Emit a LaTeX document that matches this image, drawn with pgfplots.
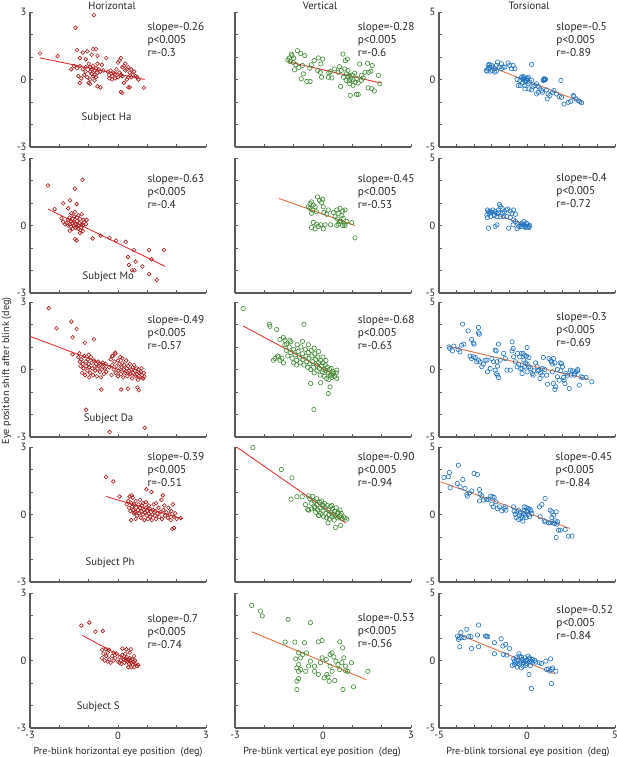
\documentclass[border=0pt]{standalone}
\usepackage{pgfplots}
\usepackage{pgfplotstable}
\pgfplotsset{compat=1.18}
\usepackage{fontspec}
\setmainfont{PT Sans}
\definecolor{hred}{RGB}{170,28,28}
\definecolor{hline}{RGB}{228,50,50}
\definecolor{vgreen}{RGB}{62,138,50}
\definecolor{vred}{RGB}{230,55,45}
\definecolor{vorange}{RGB}{228,110,55}
\definecolor{tblue}{RGB}{30,115,195}
\definecolor{torange}{RGB}{225,115,70}
\definecolor{axgray}{RGB}{90,90,90}

\pgfplotstableread{
x y
-2.66 1.16
-2.06 1.04
-1.45 2.30
-0.82 2.86
-1.4 1.3
-1.2 1.2
-1.05 1.25
-0.85 1.35
-0.75 1.35
-0.9 1.1
-0.7 1.05
-1.3 0.95
-1.1 0.9
-1.5 0.6
-1.6 0.45
-1.4 0.5
-1.3 0.6
-1.2 0.45
-1.1 0.55
-1.0 0.7
-0.95 0.55
-0.9 0.45
-0.85 0.6
-0.8 0.4
-0.75 0.5
-0.7 0.3
-0.65 0.45
-0.6 0.35
-0.55 0.65
-1.35 0.15
-1.25 0.05
-1.15 0.2
-1.05 0.1
-0.95 0.0
-0.9 0.25
-0.85 0.15
-0.8 -0.05
-0.75 0.1
-0.7 -0.3
-0.6 -0.35
-1.3 -0.15
-1.0 -0.15
-0.95 -0.2
-1.1 0.35
-0.95 0.35
-0.8 0.2
-0.7 0.7
-0.5 0.4
-0.4 0.95
-0.35 0.35
-0.3 0.2
-0.25 0.4
-0.2 0.15
-0.15 0.3
-0.1 0.05
-0.05 0.45
0.0 0.75
0.05 0.85
0.1 0.95
0.15 0.55
0.2 0.6
0.25 0.4
0.3 0.45
0.35 0.55
0.4 0.3
0.45 0.1
0.5 0.2
0.55 0.35
0.6 0.15
0.3 0.0
0.2 -0.15
0.15 0.15
0.05 0.3
-0.1 0.25
-0.2 0.0
0.1 -0.55
0.15 -0.6
0.35 -0.35
0.4 -0.35
0.65 0.1
0.7 0.0
0.88 -0.37
0.25 0.7
0.35 0.1
0.45 0.45
-0.3 0.05
0.0 0.1
0.1 0.2
}\HaH

\pgfplotstableread{
x y
-2.39 1.78
-2.16 0.73
-1.21 2.03
-1.47 1.64
-1.64 1.12
-1.87 0.98
-1.41 0.95
-1.70 0.76
-1.59 0.54
-1.47 0.61
-1.24 0.50
-1.18 0.25
-1.07 0.25
-1.09 0.07
-1.87 0.17
-1.93 0.32
-1.75 0.10
-1.7 0.0
-1.65 0.05
-1.6 -0.05
-1.55 0.1
-1.5 0.0
-1.45 0.05
-1.4 -0.05
-1.35 0.0
-1.3 0.1
-1.25 -0.1
-1.2 0.0
-1.6 0.2
-1.5 0.15
-1.4 0.2
-1.3 0.3
-1.55 -0.15
-1.45 -0.1
-1.35 -0.15
-1.25 0.05
-1.7 0.25
-1.8 0.05
-1.65 0.35
-1.5 0.4
-1.4 0.35
-1.35 0.45
-1.55 0.3
-1.28 -0.2
-1.2 -0.25
-1.15 0.15
-1.64 -0.23
-1.41 -0.66
-1.47 -0.60
-1.30 -0.34
-0.86 -0.58
-0.59 -0.45
-0.29 -0.55
-0.06 -0.67
0.26 -0.73
0.54 -1.09
1.06 -1.09
1.57 -1.09
0.34 -1.40
0.37 -1.75
0.60 -1.61
0.83 -1.82
0.48 -1.99
0.56 -1.99
1.14 -1.50
1.06 -2.16
1.32 -2.42
}\MoH

\pgfplotstableread{
x y
-2.36 2.72
-2.10 1.83
-1.59 2.13
-1.41 1.80
-1.55 1.43
-1.13 1.19
-0.82 1.34
-1.55 0.67
-1.09 -1.79
-0.57 -0.89
-0.29 -2.78
0.91 -2.59
0.11 -0.89
0.34 -0.86
0.66 -0.80
0.71 -0.92
-0.09 0.71
-0.20 0.60
-1.35 0.55
-1.3 0.35
-1.28 0.15
-1.25 0.45
-1.2 0.25
-1.18 0.05
-1.15 0.6
-1.1 0.35
-1.08 0.15
-1.05 -0.05
-1.02 0.45
-1.0 0.25
-0.98 0.1
-0.95 -0.15
-0.92 0.55
-0.9 0.3
-0.88 0.05
-0.85 -0.25
-0.82 0.4
-0.8 0.15
-0.78 -0.05
-0.75 0.25
-0.72 -0.3
-0.7 0.05
-0.68 0.35
-0.65 0.15
-0.62 -0.1
-0.6 0.2
-0.58 -0.35
-0.55 0.0
-0.52 0.3
-0.5 0.1
-0.48 -0.2
-0.45 0.05
-0.42 0.25
-0.4 -0.1
-1.22 -0.15
-1.12 -0.25
-0.98 -0.35
-1.32 0.72
-1.0 0.65
-0.25 0.45
-0.2 0.2
-0.18 0.6
-0.15 0.0
-0.12 0.35
-0.1 0.75
-0.08 -0.15
-0.05 0.15
0.0 0.4
0.02 -0.05
0.05 0.25
0.08 0.55
0.1 -0.2
0.12 0.1
0.15 0.3
0.18 -0.35
0.2 0.0
0.22 0.2
0.25 -0.15
0.28 0.4
0.3 0.05
0.32 -0.3
0.35 0.15
0.38 -0.05
0.4 0.25
0.42 -0.2
0.45 0.0
0.48 -0.4
0.5 0.1
0.52 -0.15
0.55 0.2
0.58 -0.05
0.6 -0.3
0.62 0.05
0.65 -0.2
0.68 -0.45
0.7 0.0
0.72 -0.15
0.75 -0.35
0.78 -0.1
0.8 0.05
0.82 -0.25
0.85 -0.4
0.88 -0.15
0.9 -0.3
-0.3 0.1
-0.22 -0.25
0.0 -0.3
0.15 0.5
}\DaH

\pgfplotstableread{
x y
-0.41 1.67
-0.16 1.47
0.05 0.80
0.47 0.85
0.97 1.12
1.14 1.00
1.53 0.85
1.87 0.45
1.85 -0.64
1.91 -0.60
2.14 -0.16
0.3 0.45
0.35 0.6
0.38 0.3
0.4 0.8
0.42 0.15
0.45 0.5
0.48 0.35
0.5 0.75
0.52 0.2
0.55 0.45
0.58 0.1
0.6 0.6
0.62 0.3
0.65 -0.05
0.68 0.2
0.7 0.45
0.72 0.05
0.75 0.3
0.78 -0.15
0.8 0.15
0.82 0.4
0.85 0.0
0.88 0.2
0.9 -0.25
0.92 0.1
0.95 0.3
0.98 -0.05
1.0 0.15
1.02 -0.2
1.05 0.05
1.08 0.25
1.1 -0.1
1.12 0.1
1.15 -0.25
1.18 0.0
1.2 0.2
1.22 0.45
1.25 -0.05
1.28 0.15
1.3 -0.2
1.35 0.05
1.38 0.3
1.4 -0.1
1.45 0.1
1.48 0.65
1.5 -0.2
1.55 0.2
1.58 0.4
1.6 -0.05
1.65 0.1
1.7 -0.15
1.72 0.3
1.75 0.0
1.8 -0.25
1.82 0.15
1.9 -0.1
1.95 0.05
2.0 -0.2
0.6 -0.2
0.45 -0.25
0.75 0.65
1.3 0.5
0.55 0.05
0.85 0.5
0.95 0.55
1.05 0.4
}\PhH

\pgfplotstableread{
x y
-1.25 1.55
-0.98 1.69
-0.77 1.28
-0.52 1.31
-0.54 0.48
-0.42 0.50
-0.31 0.48
0.15 0.53
0.29 0.50
0.44 0.50
-0.55 0.1
-0.5 0.3
-0.45 0.0
-0.4 0.2
-0.35 0.35
-0.3 0.05
-0.25 -0.1
-0.2 0.2
-0.15 0.0
-0.1 0.1
-0.05 0.3
0.0 -0.05
0.05 0.15
0.1 0.0
0.12 -0.15
0.15 0.25
0.2 0.05
0.22 -0.1
0.25 0.1
0.28 0.0
0.3 0.15
0.32 -0.05
0.35 0.05
0.38 -0.15
0.4 0.1
0.42 0.0
0.45 -0.1
0.48 0.05
0.5 -0.2
0.52 -0.05
0.55 -0.3
0.58 0.0
0.6 -0.15
0.65 -0.25
0.69 -0.2
0.35 -0.3
0.45 -0.3
0.25 0.3
0.4 0.35
0.55 0.2
-0.15 0.35
-0.35 -0.05
0.05 -0.1
}\SH

\pgfplotstableread{
x y
-1.20 0.87
-1.08 1.13
-1.05 1.06
-0.87 1.28
-0.76 1.16
-0.62 1.06
-1.01 0.76
-0.93 0.66
-0.82 0.54
-0.70 0.62
-0.97 0.43
-0.74 0.03
-0.55 -0.09
-0.44 -0.09
-0.67 0.25
-0.30 0.84
-0.16 0.96
-0.01 0.91
-0.07 0.69
-0.18 0.40
-0.09 0.32
-0.05 0.10
0.18 0.10
0.30 0.07
0.25 0.35
0.68 1.13
0.56 0.57
0.62 0.40
0.74 0.47
0.85 0.40
0.91 0.18
0.79 -0.04
0.91 -0.19
0.60 -0.31
0.93 -0.71
1.14 -0.66
1.20 -0.66
1.02 -0.01
1.08 0.28
1.25 0.69
1.31 0.18
1.37 0.07
1.43 0.32
1.52 0.72
1.56 0.32
1.63 0.37
1.68 0.62
1.89 0.18
1.94 -0.19
1.54 -0.37
1.66 -0.41
1.75 -0.51
0.76 0.84
0.83 0.91
0.39 0.47
0.51 0.32
1.20 -0.16
1.31 -0.04
1.02 -0.26
1.10 -0.12
-1.15 0.95
-1.12 0.80
-1.0 0.95
0.85 0.15
0.95 0.05
1.0 0.20
0.70 0.10
0.80 0.25
1.15 0.05
0.90 -0.05
-0.45 0.50
-0.40 0.65
0.20 0.30
}\HaV

\pgfplotstableread{
x y
-0.44 0.98
-0.39 1.05
-0.33 0.91
-0.50 0.83
-0.44 0.76
-0.27 0.83
-0.35 0.69
-0.19 1.27
-0.12 1.12
-0.05 1.02
0.01 0.83
-0.39 0.54
-0.22 0.61
0.03 0.58
0.13 0.50
-0.33 0.13
-0.22 0.06
-0.39 -0.09
-0.27 -0.15
-0.16 -0.04
-0.08 0.03
0.01 -0.15
0.07 0.03
0.26 0.03
0.47 0.00
0.52 0.06
0.56 0.18
0.35 0.58
0.47 0.69
0.58 0.76
0.67 0.64
0.75 0.69
0.52 0.54
0.64 0.44
0.69 0.32
0.60 0.18
0.72 0.06
0.81 0.18
0.67 0.00
0.75 0.00
0.49 0.29
0.41 0.39
0.98 0.13
1.09 -0.55
0.18 0.69
-0.01 1.17
}\MoV

\pgfplotstableread{
x y
-2.72 2.71
-1.83 2.01
-1.81 1.92
-1.58 1.78
-0.65 2.01
-1.47 1.33
-1.35 1.42
-1.30 1.30
-1.13 1.30
-1.10 1.23
-1.24 1.13
-1.64 0.49
-1.52 0.56
-1.47 0.41
-1.69 0.41
-0.42 -0.62
-0.08 -0.59
0.24 -0.77
0.18 -1.07
-0.31 -1.78
0.47 -0.03
0.35 -0.18
0.30 -0.25
-1.3 1.1
-1.25 0.85
-1.2 0.6
-1.15 1.0
-1.1 0.75
-1.05 0.5
-1.0 0.9
-0.95 0.65
-0.9 0.4
-0.88 1.1
-0.85 0.8
-0.8 0.55
-0.78 0.3
-0.75 1.0
-0.7 0.7
-0.68 0.45
-0.65 0.2
-0.6 0.9
-0.58 0.6
-0.55 0.35
-0.52 0.1
-0.5 0.75
-0.48 0.5
-0.45 0.25
-0.42 0.0
-0.4 0.85
-0.38 0.6
-0.35 0.35
-0.32 0.1
-0.3 -0.15
-0.28 0.7
-0.25 0.45
-0.22 0.2
-0.2 -0.05
-0.18 0.55
-0.15 0.3
-0.12 0.05
-0.1 -0.25
-0.08 0.4
-0.05 0.15
-0.02 -0.1
0.0 0.3
0.02 0.0
0.05 -0.3
0.08 0.2
0.1 -0.05
0.12 -0.4
0.15 0.1
0.18 -0.15
0.2 -0.45
0.22 0.0
0.25 -0.25
0.28 0.05
0.3 -0.35
0.35 -0.1
0.4 -0.3
0.45 -0.15
0.47 -0.4
-1.0 0.3
-0.9 0.2
-1.4 0.5
-1.55 0.6
-1.35 0.3
-0.7 1.25
-0.5 1.1
-0.3 0.95
-0.15 0.8
0.0 0.55
0.1 0.4
}\DaV

\pgfplotstableread{
x y
-2.39 2.98
-1.42 2.00
-1.06 1.63
-1.09 0.68
-0.89 0.79
-0.71 0.79
-0.49 0.83
-0.60 0.44
-0.52 0.22
-0.49 0.19
0.17 -0.37
0.43 -0.58
0.60 -0.49
0.81 -0.21
-0.14 -0.03
-0.45 0.7
-0.4 0.5
-0.38 0.25
-0.35 0.8
-0.3 0.6
-0.28 0.35
-0.25 0.1
-0.22 0.7
-0.2 0.45
-0.18 0.2
-0.15 -0.05
-0.12 0.55
-0.1 0.3
-0.08 0.05
-0.05 0.6
-0.02 0.4
0.0 0.15
0.02 -0.1
0.05 0.5
0.08 0.3
0.1 0.05
0.12 -0.15
0.15 0.4
0.18 0.2
0.2 0.0
0.22 -0.2
0.25 0.35
0.28 0.1
0.3 -0.1
0.32 0.25
0.35 0.0
0.38 -0.25
0.4 0.15
0.42 -0.05
0.45 0.3
0.48 0.05
0.5 -0.15
0.52 0.1
0.55 -0.1
0.58 0.2
0.6 -0.05
0.65 -0.2
0.7 -0.1
0.75 -0.15
0.62 0.05
0.0 0.4
-0.3 0.3
0.3 0.4
}\PhV

\pgfplotstableread{
x y
-2.43 2.45
-2.13 2.20
-2.07 1.98
-1.19 1.83
-0.43 1.68
-1.29 0.82
-0.96 0.82
-0.63 0.79
-0.16 0.83
-0.03 0.89
0.57 0.83
0.67 0.56
-0.83 0.34
-0.69 0.27
-0.56 0.34
-0.76 0.12
-0.93 0.07
-0.83 -0.18
-0.89 -0.33
-0.76 -0.40
-0.59 -0.48
-0.43 -0.03
-0.29 -0.25
-0.09 -0.10
-0.03 0.12
0.11 0.04
0.24 0.27
0.31 0.34
0.37 0.16
0.44 -0.03
0.51 -0.18
0.57 -0.40
0.64 -0.10
0.71 0.12
0.77 -0.25
0.84 -0.48
0.97 -0.10
0.24 -0.25
0.31 -0.48
0.13 -0.62
0.04 -0.77
0.17 -0.73
-0.16 -0.62
-0.29 -0.48
-0.49 -0.25
0.21 -0.92
0.40 -0.89
-0.83 -0.80
-0.89 -0.92
-0.83 -0.48
-0.89 -1.29
0.68 -1.29
1.04 -1.17
1.53 -0.48
0.77 -0.45
}\SV

\pgfplotstableread{
x y
-2.27 0.62
-2.21 1.04
-2.12 0.92
-2.15 1.12
-2.02 1.04
-1.93 0.92
-1.96 0.67
-2.08 0.62
-1.83 0.80
-1.74 1.04
-1.68 1.29
-1.58 0.92
-1.45 0.80
-1.36 0.92
-1.45 1.17
-1.26 0.92
-1.07 1.22
-0.98 1.04
-0.88 0.80
-0.79 1.04
-0.69 0.80
-2.21 0.80
-2.31 0.67
-1.83 0.55
-1.74 0.62
-0.56 0.00
-0.41 -0.07
-0.31 0.17
-0.22 0.22
-0.18 0.05
-0.12 -0.07
-0.03 0.05
0.07 0.17
-0.07 -0.20
-0.26 -0.27
-0.37 -0.45
-0.12 -0.45
0.07 -0.32
0.16 -0.20
0.26 -0.07
0.12 -0.70
0.26 -0.77
0.45 -0.45
0.54 -0.32
0.64 -0.52
0.73 -0.70
0.83 -0.82
0.88 -0.95
0.96 0.05
1.02 -0.02
0.92 -0.07
0.98 0.00
1.00 0.03
0.95 -0.03
1.05 0.02
1.11 -0.77
1.20 -1.07
1.15 -1.44
1.30 -1.19
1.45 -0.95
1.53 -0.82
1.68 -1.07
1.83 -1.27
1.96 -1.32
2.10 -1.82
1.93 -0.07
2.34 -1.69
2.48 -1.62
2.63 -1.19
2.67 -1.27
2.78 -1.44
2.91 -1.57
3.01 -1.64
3.10 -1.72
0.26 1.12
0.35 -0.52
-0.12 -0.70
-0.50 -0.45
0.54 -1.07
0.64 -0.95
-0.25 0.05
-0.15 0.12
-0.05 -0.05
0.02 0.08
}\HaT

\pgfplotstableread{
x y
-2.25 1.15
-2.19 1.02
-2.13 0.90
-2.09 1.07
-2.00 0.98
-1.94 1.15
-1.86 0.83
-1.81 1.02
-1.71 0.90
-1.62 1.15
-1.56 1.56
-1.52 1.39
-1.42 1.27
-1.37 0.90
-1.29 1.02
-1.18 1.15
-1.10 1.22
-0.95 1.07
-0.85 0.90
-0.66 0.83
-2.25 0.59
-2.28 0.78
-2.06 0.66
-1.86 0.73
-1.71 0.66
-1.62 0.98
-1.52 0.66
-2.19 -0.20
-1.81 -0.07
-1.71 0.05
-1.04 -0.20
-0.79 0.05
-0.56 -0.24
-0.47 -0.07
-0.37 0.05
-0.28 0.17
-0.18 0.29
-0.14 0.00
-0.09 -0.07
0.01 0.05
0.11 -0.07
-0.03 0.17
-0.22 0.05
-0.33 -0.07
0.16 0.00
0.11 -0.15
-0.09 -0.15
-0.66 0.29
-0.56 0.17
-0.76 0.41
-0.95 0.59
-1.14 0.66
-1.33 0.66
-0.76 1.15
}\MoT

\pgfplotstableread{
x y
-4.43 1.68
-4.39 1.56
-4.24 1.38
-4.16 1.73
-3.91 1.48
-3.81 1.31
-3.72 1.80
-3.66 3.36
-3.59 1.88
-3.34 2.86
-3.15 2.22
-3.05 1.98
-3.01 1.88
-2.76 3.11
-2.71 2.62
-2.76 2.72
-3.05 0.94
-3.24 0.99
-3.15 0.81
-2.95 0.89
-2.86 0.57
-2.76 0.69
-2.67 0.57
-2.57 0.20
-2.48 0.40
-2.38 0.69
-2.28 0.69
-2.25 -0.17
-2.09 0.07
-2.00 0.81
-1.90 0.57
-1.81 1.43
-1.75 1.38
-1.62 1.88
-1.71 0.57
-1.67 0.25
-1.81 -0.05
-1.75 -0.30
-1.62 -0.59
-1.67 -0.42
-1.52 0.69
-1.33 1.19
-1.23 0.81
-1.14 -0.05
-0.95 -0.05
-0.85 2.05
-0.79 1.56
-0.85 1.38
-0.76 0.94
-0.66 0.57
-0.56 0.20
-0.53 1.19
-0.41 0.94
-0.33 1.19
-0.22 1.19
-0.14 1.06
-0.03 0.99
0.11 0.89
-0.18 0.69
-0.09 0.49
0.01 0.40
-0.37 0.07
-0.47 0.40
-0.28 -0.30
-0.14 0.20
0.11 0.20
0.20 0.07
0.30 -0.30
0.39 -0.10
0.49 0.49
0.58 0.20
0.68 -0.05
0.77 -0.25
0.87 -0.42
0.93 0.89
1.00 0.00
1.12 -0.42
1.16 -1.09
1.25 0.81
1.35 0.69
1.39 0.57
1.44 0.40
1.50 0.81
1.58 0.49
1.50 -1.04
1.58 -1.48
1.63 -1.28
1.73 -0.54
1.83 -0.79
1.88 0.49
1.96 0.44
2.02 0.20
2.07 -0.59
2.11 -0.79
2.15 -1.04
2.40 -1.41
2.46 -0.05
2.59 -0.10
2.69 -0.30
2.78 -0.17
2.88 0.00
2.97 -1.16
3.07 -0.54
3.16 -0.59
3.36 -0.59
3.68 -0.91
0.01 1.63
-0.28 0.07
0.01 -0.17
0.35 -0.42
0.74 -0.67
0.62 -0.10
1.44 -0.17
1.73 0.00
1.92 -0.10
2.21 -0.30
2.30 -0.42
2.50 -0.42
2.69 -0.42
2.88 -0.10
0.87 0.07
}\DaT

\pgfplotstableread{
x y
-4.72 2.74
-4.47 2.79
-4.41 3.11
-3.90 3.65
-4.37 1.98
-3.96 2.30
-3.80 2.05
-3.65 2.59
-3.52 1.93
-3.42 1.51
-3.39 1.36
-3.27 1.60
-3.14 1.75
-3.01 3.04
-2.82 2.96
-2.70 1.85
-2.67 1.51
-2.57 1.38
-2.70 1.01
-2.48 1.06
-2.29 1.11
-2.19 1.11
-2.06 1.36
-1.94 1.31
-1.87 1.26
-1.76 0.94
-1.91 0.57
-2.00 0.77
-1.68 0.44
-1.57 0.57
-1.43 0.27
-1.30 0.44
-1.19 0.32
-1.24 0.57
-0.77 0.57
-0.73 0.25
-0.67 0.02
-0.62 -0.22
-0.58 0.20
-0.48 0.32
-0.43 -0.05
-0.39 0.12
-0.35 -0.30
-0.29 -0.12
-0.24 -0.49
-0.20 0.07
-0.16 0.27
-0.10 -0.05
-0.05 -0.22
-0.01 0.20
0.03 0.32
0.09 0.02
0.14 -0.17
0.22 0.27
0.28 0.07
-0.16 0.57
-0.05 0.52
0.09 0.44
0.18 0.37
-0.48 -0.37
0.75 -0.17
0.71 0.57
0.84 0.74
1.03 1.19
0.98 -0.47
1.03 -0.54
1.32 0.32
1.41 0.20
1.51 -0.05
1.41 -0.22
1.60 -0.47
1.32 -0.62
1.57 -0.67
1.66 0.20
1.74 -0.54
1.79 -1.16
1.89 -1.16
1.66 -1.70
2.17 -1.11
2.36 -1.60
2.55 -1.60
1.51 -0.62
1.22 -0.62
1.70 -0.72
}\PhT

\pgfplotstableread{
x y
-3.95 1.81
-3.89 1.56
-3.85 1.69
-3.76 2.06
-3.82 1.02
-3.70 1.69
-3.57 1.69
-3.42 2.31
-3.32 1.76
-3.19 1.76
-3.15 0.89
-2.75 2.63
-2.81 1.89
-2.75 1.02
-2.37 1.81
-2.29 1.81
-2.23 1.76
-1.85 1.32
-1.85 0.50
-1.47 1.61
-1.37 1.07
-1.22 1.19
-1.34 0.45
-1.15 0.40
-0.99 0.89
-0.84 -0.37
-0.76 0.12
-0.71 -0.05
-0.65 -0.17
-0.61 0.20
-0.57 -0.47
-0.52 0.02
-0.46 0.50
-0.42 -0.30
-0.38 -0.12
-0.32 -0.55
-0.27 0.07
-0.23 -0.42
-0.19 -0.17
-0.13 0.20
-0.08 -0.05
-0.04 -0.22
0.00 0.02
0.06 0.32
0.11 0.12
0.15 -0.12
0.19 -0.37
0.25 -0.05
0.31 0.07
0.34 -0.12
0.44 0.02
0.50 -0.12
-0.71 -0.30
-0.52 -0.22
-0.32 0.25
-0.08 -0.37
0.11 -1.04
0.25 -2.08
0.69 -0.17
0.82 -0.22
1.07 -0.05
1.11 -0.67
1.20 -0.62
1.30 -0.79
1.34 0.12
1.39 -0.67
1.39 -1.71
1.45 -0.55
1.64 -0.79
0.15 0.20
-0.42 0.32
-0.23 0.00
}\ST

\pgfplotsset{
  panel/.style={scale only axis, width=176pt, height=135pt, anchor=south west,
    axis x line=bottom, axis y line=left,
    axis line style={-, draw=axgray, line width=1.1pt},
    tick align=inside, major tick length=2.6pt,
    tick style={draw=axgray, line width=0.7pt},
    xticklabels={}, yticklabels={}, clip=false,
    ticklabel style={font=\fontsize{10.5}{11}\selectfont, text=black!85, inner sep=1pt},
    yticklabel style={xshift=-2.4pt},
    xticklabel style={yshift=-2.4pt}},
  colA/.style={panel, xmin=-3, xmax=3, ymin=-3, ymax=3,
    xtick={-3,-2,-1,0,1,2,3}, ytick={-3,-2,-1,0,1,2,3}},
  colC/.style={panel, xmin=-5, xmax=5, ymin=-5, ymax=5,
    xtick={-5,-4,-3,-2,-1,0,1,2,3,4,5},
    ytick={-5,-3.3333,-1.6667,0,1.6667,3.3333,5}},
  ylabA/.style={yticklabels={\raisebox{1.2pt}{-3},,,0,,,\raisebox{-1.2pt}{3}}},
  ylabC/.style={yticklabels={\raisebox{1.2pt}{-5},,,0,,,\raisebox{-1.2pt}{5}}},
  xlabA/.style={xticklabels={-3,,,0,,,3}},
  xlabC/.style={xticklabels={-5,,,,,0,,,,,5}},
  hpts/.style={only marks, mark=o, mark size=1.9pt, mark options={draw=hred, line width=0.6pt}},
  vpts/.style={only marks, mark=o, mark size=2.2pt, mark options={draw=vgreen, line width=0.6pt}},
  tpts/.style={only marks, mark=o, mark size=2.2pt, mark options={draw=tblue, line width=0.6pt}},
}
\newcommand{\stat}[4]{\node[anchor=west, align=left, font=\fontsize{11.3}{13}\selectfont, text=black!85, inner sep=0pt] at (axis cs:#1,#2) {slope=#3\\p<0.005\\r=#4};}
\newcommand{\subj}[3]{\node[font=\fontsize{10.8}{12}\selectfont, text=black!85] at (axis cs:#1,#2) {Subject #3};}

\begin{document}
\begin{tikzpicture}
\useasboundingbox (0,0) rectangle (617pt,757pt);
% ---------- Row 1: Ha
\begin{axis}[colA, ylabA, at={(30pt,610pt)}]
\addplot[hpts] table {\HaH};
\addplot[hline, line width=0.9pt] coordinates {(-2.66,0.96) (0.91,0.0)};
\stat{1.0}{1.76}{-0.26}{-0.3}
\subj{-0.39}{-1.72}{Ha}
\end{axis}
\begin{axis}[colA, at={(235pt,610pt)}]
\addplot[vpts] table {\HaV};
\addplot[vred, line width=0.9pt] coordinates {(-1.2,0.79) (1.98,-0.16)};
\stat{1.18}{1.76}{-0.28}{-0.6}
\end{axis}
\begin{axis}[colC, ylabC, at={(439pt,610pt)}]
\addplot[tpts] table {\HaT};
\addplot[torange, line width=0.9pt] coordinates {(-2.27,1.04) (3.16,-1.69)};
\stat{1.66}{2.93}{-0.5}{-0.89}
\end{axis}
% ---------- Row 2: Mo
\begin{axis}[colA, ylabA, at={(30pt,464pt)}]
\addplot[hpts] table {\MoH};
\addplot[hline, line width=0.9pt] coordinates {(-2.39,0.73) (1.61,-1.82)};
\stat{1.0}{1.53}{-0.63}{-0.4}
\subj{-0.33}{-2.29}{Mo}
\end{axis}
\begin{axis}[colA, at={(235pt,464pt)}]
\addplot[vpts] table {\MoV};
\addplot[vorange, line width=0.9pt] coordinates {(-1.5,1.2) (1.09,0.0)};
\stat{1.18}{1.53}{-0.45}{-0.53}
\end{axis}
\begin{axis}[colC, ylabC, at={(439pt,464pt)}]
\addplot[tpts] table {\MoT};
\addplot[torange, line width=0.9pt] coordinates {(-2.32,1.07) (0.16,-0.07)};
\stat{1.66}{2.56}{-0.4}{-0.72}
\end{axis}
% ---------- Row 3: Da
\begin{axis}[colA, ylabA, at={(30pt,320pt)}]
\addplot[hpts] table {\DaH};
\addplot[hline, line width=0.9pt] coordinates {(-2.97,1.46) (0.9,-0.44)};
\stat{1.0}{1.64}{-0.49}{-0.57}
\subj{-0.32}{-2.2}{Da}
\end{axis}
\begin{axis}[colA, at={(235pt,320pt)}]
\addplot[vpts] table {\DaV};
\addplot[vred, line width=0.9pt] coordinates {(-2.72,1.93) (0.41,-0.25)};
\stat{1.18}{1.64}{-0.68}{-0.63}
\end{axis}
\begin{axis}[colC, ylabC, at={(439pt,320pt)}]
\addplot[tpts] table {\DaT};
\addplot[torange, line width=0.9pt] coordinates {(-4.48,1.73) (3.55,-0.74)};
\stat{1.66}{2.98}{-0.3}{-0.69}
\end{axis}
% ---------- Row 4: Ph
\begin{axis}[colA, ylabA, at={(30pt,175pt)}]
\addplot[hpts] table {\PhH};
\addplot[hline, line width=0.9pt] coordinates {(-0.41,0.80) (2.2,-0.19)};
\stat{1.0}{1.98}{-0.39}{-0.51}
\subj{-0.27}{-2.14}{Ph}
\end{axis}
\begin{axis}[colA, at={(235pt,175pt)}]
\addplot[vpts] table {\PhV};
\addplot[vred, line width=0.9pt] coordinates {(-2.95,3.0) (0.77,-0.37)};
\stat{1.18}{1.98}{-0.90}{-0.94}
\end{axis}
\begin{axis}[colC, ylabC, at={(439pt,175pt)}]
\addplot[tpts] table {\PhT};
\addplot[torange, line width=0.9pt] coordinates {(-4.91,2.42) (2.46,-1.04)};
\stat{1.62}{3.30}{-0.45}{-0.84}
\end{axis}
% ---------- Row 5: S
\begin{axis}[colA, ylabA, xlabA, at={(30pt,29pt)}]
\addplot[hpts] table {\SH};
\addplot[hline, line width=0.9pt] coordinates {(-1.22,1.12) (0.63,-0.19)};
\stat{1.0}{1.30}{-0.7}{-0.74}
\subj{-0.67}{-2.04}{S}
\end{axis}
\begin{axis}[colA, xlabA, at={(235pt,29pt)}]
\addplot[vpts] table {\SV};
\addplot[vorange, line width=0.9pt] coordinates {(-2.43,1.28) (1.47,-0.85)};
\stat{1.18}{1.32}{-0.53}{-0.56}
\end{axis}
\begin{axis}[colC, ylabC, xlabC, at={(439pt,29pt)}]
\addplot[tpts] table {\ST};
\addplot[torange, line width=0.9pt] coordinates {(-3.89,1.94) (1.58,-0.99)};
\stat{1.66}{2.83}{-0.52}{-0.84}
\end{axis}
% ---------- titles and labels
\begin{scope}[every node/.style={text=black!85}]
\node[font=\fontsize{10.6}{12}\selectfont] at (112pt,751pt) {Horizontal};
\node[font=\fontsize{10.6}{12}\selectfont] at (320pt,751pt) {Vertical};
\node[font=\fontsize{10.6}{12}\selectfont] at (529pt,751pt) {Torsional};
\node[rotate=90, font=\fontsize{10.2}{12}\selectfont] at (6.5pt,386pt) {Eye position shift after blink (deg)};
\node[font=\fontsize{10.2}{12}\selectfont] at (118pt,5.5pt) {Pre-blink horizontal eye position\ \ (deg)};
\node[font=\fontsize{10.2}{12}\selectfont] at (322pt,5.5pt) {Pre-blink vertical eye position\ \ (deg)};
\node[font=\fontsize{10.2}{12}\selectfont] at (528pt,5.5pt) {Pre-blink torsional eye position\ \ (deg)};
\end{scope}
\end{tikzpicture}
\end{document}
